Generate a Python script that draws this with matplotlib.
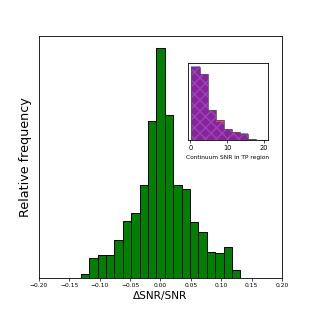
import numpy as np
import matplotlib
matplotlib.use("Agg")
import matplotlib.pyplot as plt

# main histogram: dSNR/SNR (bin edges and bar heights)
main_lo, main_hi, main_nbins = -0.131, 0.1315, 19
main_heights = [12, 59, 69, 68, 113, 170, 194, 279, 473, 690,
                490, 280, 268, 169, 137, 79, 75, 94, 23]

# inset: continuum SNR in TP region, two overlapping histograms
inset_lo, inset_hi, inset_nbins = 0.3, 20.1, 9
inset_blue = [220, 199, 91, 55, 34, 21, 20, 2, 1]
inset_red = [217, 199, 91, 59, 34, 24, 18, 2, 1]

main_ticks = [-0.20, -0.15, -0.10, -0.05, 0.00, 0.05, 0.10, 0.15, 0.20]
inset_ticks = [0, 10, 20]

fig = plt.figure(figsize=(3.14, 3.14), dpi=100)
ax = fig.add_axes([0.124, 0.115, 0.774, 0.770])

edges = np.linspace(main_lo, main_hi, main_nbins + 1)
ax.bar(edges[:-1], main_heights, width=np.diff(edges), align='edge',
       color='green', edgecolor='black', linewidth=0.7)
ax.set_xlim(-0.2, 0.2)
ax.set_ylim(0, max(main_heights) * 727 / 690)
ax.set_xticks(main_ticks)
ax.set_xticklabels([f"{t:.2f}".replace('-', '\u2212') for t in main_ticks])
ax.set_yticks([])
ax.tick_params(axis='x', labelsize=4.3, length=2, width=0.5, pad=1.5)
for s in ax.spines.values():
    s.set_linewidth(0.6)
ax.set_xlabel('\u0394SNR/SNR', fontsize=7.6, labelpad=2)
ax.set_ylabel('Relative frequency', fontsize=9.2, labelpad=5)

# inset
ins = fig.add_axes([0.598, 0.554, 0.256, 0.246])
iedges = np.linspace(inset_lo, inset_hi, inset_nbins + 1)
w = np.diff(iedges)
ins.bar(iedges[:-1], inset_red, width=w, align='edge', color='red',
        alpha=0.75, linewidth=0)
ins.bar(iedges[:-1], inset_blue, width=w, align='edge', color='blue',
        alpha=0.45, edgecolor='#a070ff', hatch='xxx', linewidth=0)
ins.stairs(inset_red, iedges, color='#555555', linewidth=0.6)
ins.set_xlim(inset_lo - 0.05 * (inset_hi - inset_lo),
             inset_hi + 0.05 * (inset_hi - inset_lo))
ins.set_xticks(inset_ticks)
ins.set_yticks([])
ins.tick_params(axis='x', labelsize=4.8, length=2, width=0.5, pad=1.5)
for s in ins.spines.values():
    s.set_linewidth(0.6)
ins.set_xlabel('Continuum SNR in TP region', fontsize=4.2, labelpad=3)

fig.savefig('out.png', dpi=100)
